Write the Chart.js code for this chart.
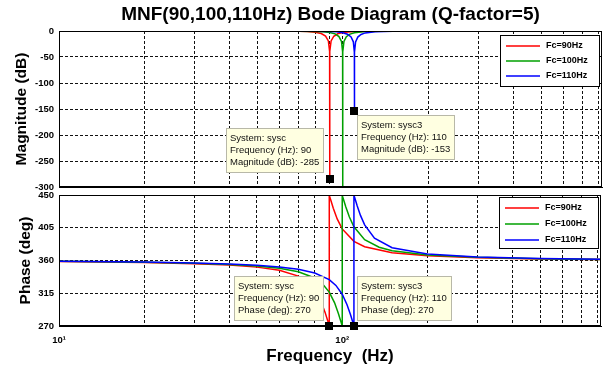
<!DOCTYPE html>
<html>
<head>
<meta charset="utf-8">
<script src="https://cdn.jsdelivr.net/npm/chart.js@4.4.1/dist/chart.umd.min.js"></script>
<style>
  html, body { margin: 0; padding: 0; background: #fff; }
  #wrap { position: relative; width: 607px; height: 373px; }
  #wrap canvas { position: absolute; left: 0; top: 0; }
</style>
</head>
<body>
<div id="wrap">
  <canvas id="magChart" width="607" height="373"></canvas>
  <canvas id="phaseChart" width="607" height="373"></canvas>
</div>
<script>
// values
const seriesNames = ['Fc=90Hz', 'Fc=100Hz', 'Fc=110Hz'];
const seriesColors = ['#ff0000', '#00a000', '#0000ff'];

const freq90 = [10, 20, 30, 40, 50, 60, 70, 75, 80, 84, 87, 89, 89.9, 89.99, 90, 90, 90.01, 90.1, 91, 93, 96, 100, 110, 120, 150, 200, 300, 500, 820];
const mag90 = [0, -0.01, -0.02, -0.05, -0.11, -0.24, -0.63, -1.13, -2.35, -4.9, -9.86, -19.1, -39.1, -59.1, -285, -285, -59.1, -39.1, -19.2, -10.1, -5.3, -2.78, -0.95, -0.48, -0.15, -0.05, -0.02, 0, 0];
const phase90 = [358.7, 357.3, 355.7, 353.7, 350.9, 346.5, 338.5, 331.4, 319.7, 304.6, 288.7, 276.4, 270.6, 270.1, 270, 450, 449.9, 449.4, 443.7, 431.8, 417.1, 403.4, 386.3, 378.9, 370.6, 366.4, 363.8, 362.1, 361.3];

const freq100 = [10, 20, 30, 40, 50, 60, 70, 80, 85, 90, 94, 97, 99, 99.9, 99.99, 100, 100, 100.01, 100.1, 101, 103, 106, 110, 120, 135, 150, 200, 300, 500, 820];
const mag100 = [0, -0.01, -0.02, -0.04, -0.08, -0.15, -0.32, -0.78, -1.38, -2.78, -5.57, -10.7, -20, -40, -60, -310, -310, -60, -40, -20.1, -10.95, -5.96, -3.22, -1.13, -0.44, -0.24, -0.08, -0.02, 0, 0];
const phase100 = [358.8, 357.6, 356.2, 354.6, 352.4, 349.4, 344.6, 336.0, 328.5, 316.6, 301.8, 286.9, 275.7, 270.6, 270.1, 270, 450, 449.9, 449.4, 444.3, 433.5, 419.8, 406.3, 388.6, 378.2, 373.5, 367.6, 364.3, 362.4, 361.4];

const freq110 = [10, 20, 30, 40, 50, 60, 70, 80, 90, 95, 100, 104, 107, 109, 109.9, 109.99, 110, 110, 110.01, 110.1, 111, 113, 116, 120, 130, 150, 200, 300, 500, 820];
const mag110 = [0, -0.01, -0.02, -0.03, -0.06, -0.1, -0.19, -0.4, -0.95, -1.65, -3.22, -6.21, -11.5, -20.8, -40.8, -60.8, -153, -153, -60.8, -40.8, -20.9, -11.7, -6.58, -3.65, -1.32, -0.42, -0.11, -0.03, 0, 0];
const phase110 = [359.0, 357.8, 356.6, 355.2, 353.5, 351.2, 347.9, 342.8, 333.7, 325.8, 313.7, 299.3, 285.5, 275.2, 270.6, 270.1, 270, 450, 449.9, 449.4, 444.8, 434.9, 422.0, 408.9, 390.8, 377.6, 369.0, 364.8, 362.6, 361.6];

const freqTicks = [10, 20, 30, 40, 50, 60, 70, 80, 90, 100, 200, 300, 400, 500, 600, 700, 800];
const freqLabels = ['10¹', '', '', '', '', '', '', '', '', '10²', '', '', '', '', '', '', ''];
const magTicks = [-300, -250, -200, -150, -100, -50, 0];
const phaseTicks = [270, 315, 360, 405, 450];

// data tips
const tipSystems = ['sysc', 'sysc3'];
const tipFreqs = [90, 110];
const tipMags = [-285, -153];
const tipPhases = [270, 270];

const fontFamily = '"Liberation Sans", Arial, sans-serif';
Chart.defaults.font.family = fontFamily;
Chart.defaults.color = '#000';

function lineSet(i, xs, ys) {
    return {
        label: seriesNames[i],
        data: xs.map((x, k) => ({ x: x, y: ys[k] })),
        borderColor: seriesColors[i],
        borderWidth: 1.5,
        pointRadius: 0,
        fill: false,
        tension: 0,
        order: 2 - i
    };
}

function freqAxis(showLabels) {
    return {
        type: 'logarithmic',
        min: 10,
        max: 820,
        afterBuildTicks: s => { s.ticks = freqTicks.map(v => ({ value: v })); },
        afterFit: s => { s.height = showLabels ? 47 : 0; },
        ticks: {
            display: showLabels, autoSkip: false, maxRotation: 0, padding: 9,
            font: { size: 9.5, weight: 'bold' },
            callback: (v, i) => freqLabels[i]
        },
        grid: { color: '#111', lineWidth: 1, drawTicks: false },
        border: { display: true, color: '#000', dash: [3, 2] },
        title: {
            display: showLabels, text: 'Frequency  (Hz)',
            font: { size: 17, weight: 'bold' }, padding: { top: 0, bottom: 6 }
        }
    };
}

function valueAxis(title, tickVals, titlePad) {
    return {
        min: tickVals[0],
        max: tickVals[tickVals.length - 1],
        afterBuildTicks: s => { s.ticks = tickVals.map(v => ({ value: v })); },
        afterFit: s => { s.width = 59; },
        ticks: { padding: 5, font: { size: 9.5, weight: 'bold' } },
        grid: { color: '#111', lineWidth: 1, drawTicks: false },
        border: { color: '#000', dash: [3, 2] },
        title: {
            display: true, text: title,
            font: { size: 15.5, weight: 'bold' }, padding: { top: titlePad, bottom: 0 }
        }
    };
}

// black box round the plot area
const frame = {
    id: 'frame',
    afterDatasetsDraw(chart) {
        const { ctx, chartArea: a } = chart;
        ctx.save();
        ctx.strokeStyle = '#000';
        ctx.lineWidth = 1;
        ctx.strokeRect(Math.round(a.left) + 0.5, Math.round(a.top) + 0.5,
            Math.round(a.right - a.left) - 1, Math.round(a.bottom - a.top) - 1);
        ctx.restore();
    }
};

// matlab style legend box
const boxLegend = {
    id: 'boxLegend',
    afterDraw(chart, args, opts) {
        const { ctx, chartArea: a } = chart;
        const w = 99, h = 51;
        const x0 = Math.round(a.right - w - 3), y0 = Math.round(a.top + opts.top);
        ctx.save();
        ctx.fillStyle = '#fff';
        ctx.fillRect(x0, y0, w, h);
        ctx.strokeStyle = '#000';
        ctx.lineWidth = 1;
        ctx.strokeRect(x0 + 0.5, y0 + 0.5, w, h);
        ctx.font = 'bold 9px ' + fontFamily;
        ctx.textBaseline = 'middle';
        chart.data.datasets.forEach((ds, i) => {
            const y = y0 + 11 + i * opts.gap;
            ctx.strokeStyle = ds.borderColor;
            ctx.lineWidth = 1.5;
            ctx.beginPath();
            ctx.moveTo(x0 + 6, y);
            ctx.lineTo(x0 + 40, y);
            ctx.stroke();
            ctx.fillStyle = '#000';
            ctx.fillText(ds.label, x0 + 46, y);
        });
        ctx.restore();
    }
};

// data cursor boxes
const dataTips = {
    id: 'dataTips',
    afterDraw(chart, args, opts) {
        const { ctx } = chart;
        const xs = chart.scales.x, ys = chart.scales.y;
        ctx.save();
        ctx.font = '9.5px ' + fontFamily;
        ctx.textBaseline = 'middle';
        tipFreqs.forEach((f, i) => {
            const px = xs.getPixelForValue(f);
            const py = ys.getPixelForValue(opts.values[i]);
            const lines = ['System: ' + tipSystems[i], 'Frequency (Hz): ' + f, opts.label + ': ' + opts.values[i]];
            const w = Math.round(Math.max(...lines.map(t => ctx.measureText(t).width)) + 8);
            const h = 44;
            const pl = opts.place[i];
            const bx = Math.round(pl.left ? px - pl.dx - w : px + pl.dx);
            const by = Math.round(pl.up ? py - pl.dy - h : py + pl.dy);
            ctx.fillStyle = '#ffffe1';
            ctx.fillRect(bx, by, w, h);
            ctx.strokeStyle = '#b8b8a8';
            ctx.lineWidth = 1;
            ctx.strokeRect(bx + 0.5, by + 0.5, w, h);
            ctx.fillStyle = '#111';
            lines.forEach((t, k) => ctx.fillText(t, bx + 4, by + 10 + k * 12));
            ctx.fillStyle = '#000';
            ctx.fillRect(Math.round(px) - 4, Math.round(py) - 4, 8, 8);
        });
        ctx.restore();
    }
};

new Chart(document.getElementById('magChart'), {
    type: 'line',
    data: {
        datasets: [lineSet(0, freq90, mag90), lineSet(1, freq100, mag100), lineSet(2, freq110, mag110)]
    },
    options: {
        responsive: false,
        animation: false,
        events: [],
        layout: { padding: { top: 0, left: 0, right: 5, bottom: 186 } },
        scales: { x: freqAxis(false), y: valueAxis('Magnitude (dB)', magTicks, 12) },
        plugins: {
            legend: { display: false },
            tooltip: { enabled: false },
            title: {
                display: true, fullSize: false,
                text: 'MNF(90,100,110Hz) Bode Diagram (Q-factor=5)',
                font: { size: 19, weight: 'bold' }, color: '#000',
                padding: { top: 3, bottom: 5.2 }
            },
            boxLegend: { top: 4, gap: 15 },
            dataTips: {
                label: 'Magnitude (dB)', values: tipMags,
                place: [{ left: true, up: true, dx: 7, dy: 7 }, { left: false, up: false, dx: 3, dy: 4 }]
            }
        }
    },
    plugins: [frame, boxLegend, dataTips]
});

new Chart(document.getElementById('phaseChart'), {
    type: 'line',
    data: {
        datasets: [lineSet(0, freq90, phase90), lineSet(1, freq100, phase100), lineSet(2, freq110, phase110)]
    },
    options: {
        responsive: false,
        animation: false,
        events: [],
        layout: { padding: { top: 195, left: 0, right: 5, bottom: 0 } },
        scales: { x: freqAxis(true), y: valueAxis('Phase (deg)', phaseTicks, 16) },
        plugins: {
            legend: { display: false },
            tooltip: { enabled: false },
            boxLegend: { top: 2, gap: 16 },
            dataTips: {
                label: 'Phase (deg)', values: tipPhases,
                place: [{ left: true, up: true, dx: 6, dy: 6 }, { left: false, up: true, dx: 3, dy: 6 }]
            }
        }
    },
    plugins: [frame, boxLegend, dataTips]
});
</script>
</body>
</html>
